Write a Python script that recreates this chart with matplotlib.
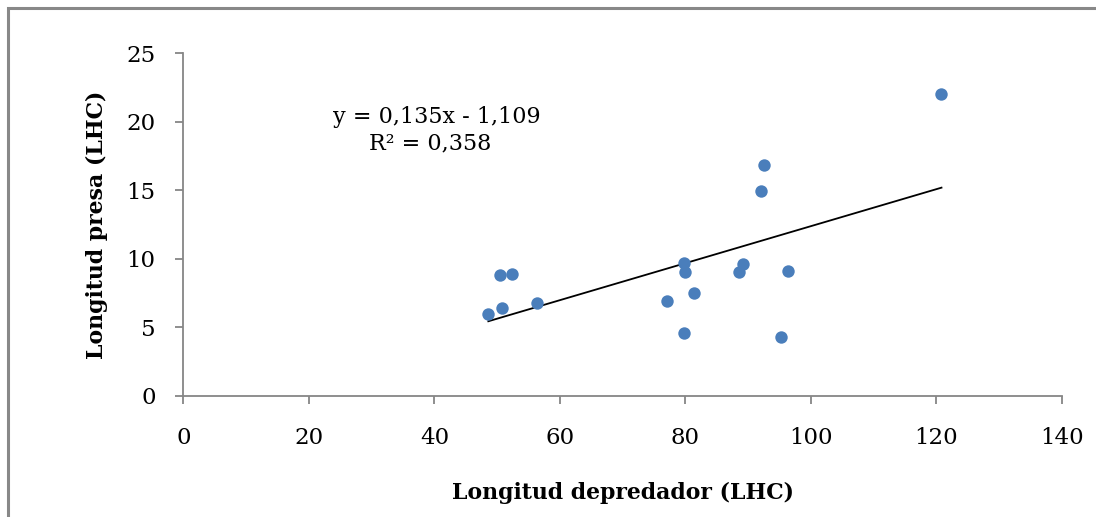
import matplotlib
matplotlib.use("Agg")
import matplotlib.pyplot as plt
from matplotlib.patches import Rectangle
import numpy as np

pred_len = [48.6, 50.4, 52.3, 50.8, 56.3, 77.0, 79.7, 79.9, 81.3, 79.7,
            92.6, 92.1, 89.1, 88.5, 96.3, 95.2, 120.8]
prey_len = [5.97, 8.8, 8.9, 6.4, 6.82, 6.92, 9.7, 9.05, 7.5, 4.6,
            16.87, 14.98, 9.6, 9.07, 9.1, 4.3, 22.05]
slope = 0.135
intercept = -1.109
r2 = 0.358
x_ticks = [0, 20, 40, 60, 80, 100, 120, 140]
y_ticks = [0, 5, 10, 15, 20, 25]

plt.rcParams['font.family'] = ['DejaVu Serif']

fig = plt.figure(figsize=(10.96, 5.17), dpi=100)
W, H = 1096, 517
ax = fig.add_axes([183.3 / W, (H - 396) / H, (1062 - 183.3) / W, (396 - 53.3) / H])

ax.scatter(pred_len, prey_len, s=80, color='#4a7ebb', zorder=3, linewidths=0)
xl = np.array([min(pred_len), max(pred_len)])
ax.plot(xl, slope * xl + intercept, color='black', lw=1.3, zorder=2)

ax.set_xlim(0, 140)
ax.set_ylim(0, 25)
ax.set_xticks(x_ticks)
ax.set_yticks(y_ticks)
for s in ['top', 'right']:
    ax.spines[s].set_visible(False)
for s in ['left', 'bottom']:
    ax.spines[s].set_color('#868686')
    ax.spines[s].set_linewidth(1.3)
ax.tick_params(axis='both', direction='out', length=6, width=1.3, color='#868686',
               labelsize=16.5, labelcolor='black')
ax.tick_params(axis='x', pad=16)
ax.tick_params(axis='y', pad=14)

ax.set_xlabel('Longitud depredador (LHC)', fontsize=15.8, fontweight='bold', labelpad=24)
ax.set_ylabel('Longitud presa (LHC)', fontsize=15.8, fontweight='bold', labelpad=13)

eq = f"y = {slope:.3f}x - {abs(intercept):.3f}".replace('.', ',')
rr = f"R² = {r2:.3f}".replace('.', ',')
fig.text(437 / W, 1 - 117 / H, eq, ha='center', va='center', fontsize=16)
fig.text(430 / W, 1 - 143 / H, rr, ha='center', va='center', fontsize=16)

fig.patches.append(Rectangle((8 / W, -0.1), 1.2, 1 - 8 / H + 0.1, transform=fig.transFigure,
                             fill=False, edgecolor='#888888', lw=2.2))

fig.savefig('out.png', dpi=100)
